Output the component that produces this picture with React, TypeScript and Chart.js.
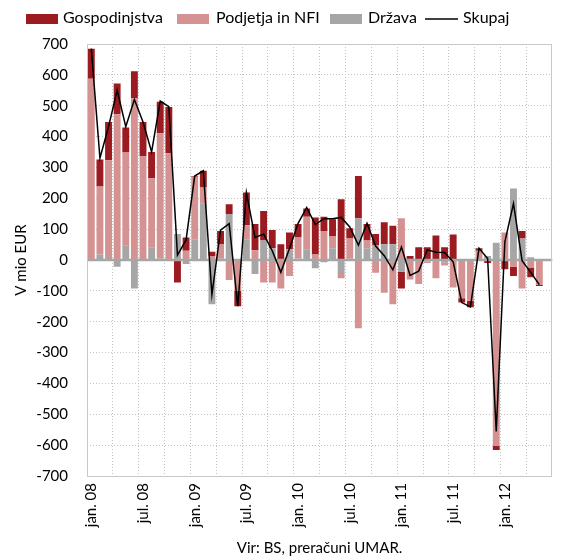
import React, { useEffect, useRef } from "react";
import { Chart, registerables } from "chart.js";

Chart.register(...registerables);

const categories = [
  "jan. 08", "feb. 08", "mar. 08", "apr. 08", "maj. 08", "jun. 08", "jul. 08", "avg. 08", "sep. 08", "okt. 08", "nov. 08", "dec. 08",
  "jan. 09", "feb. 09", "mar. 09", "apr. 09", "maj. 09", "jun. 09", "jul. 09", "avg. 09", "sep. 09", "okt. 09", "nov. 09", "dec. 09",
  "jan. 10", "feb. 10", "mar. 10", "apr. 10", "maj. 10", "jun. 10", "jul. 10", "avg. 10", "sep. 10", "okt. 10", "nov. 10", "dec. 10",
  "jan. 11", "feb. 11", "mar. 11", "apr. 11", "maj. 11", "jun. 11", "jul. 11", "avg. 11", "sep. 11", "okt. 11", "nov. 11", "dec. 11",
  "jan. 12", "feb. 12", "mar. 12", "apr. 12", "maj. 12", "jun. 12",
];

const drzava = [
  0, 18, 10, -22, 48, -92, 0, 41, 5, 0,
  84, -13, 67, 184, -143, 5, 149, 3, 67, -45,
  63, 38, 0, 35, 5, 35, -27, -7, 38, -45,
  4, 135, 38, 49, 51, 51, -38, 0, 0, -5,
  0, -9, 0, 0, 0, 0, 13, 56, 0, 232,
  70, 9, 0, null,
];

const podjetja = [
  587, 220, 313, 472, 300, 524, 337, 224, 406, 346,
  0, 30, 203, 51, 13, 47, -65, -100, 46, 32,
  -73, -73, -92, -52, 68, 105, 18, 94, 38, -14,
  66, -221, 25, -41, -106, -143, 135, -63, -78, -5,
  -59, -9, -89, -124, -132, 30, 0, -603, 89, -22,
  -92, -24, -81, null,
];

const gospodinjstva = [
  98, 88, 124, 100, 81, 88, 110, 85, 102, 150,
  -73, 43, 2, 54, 14, 42, 32, -50, 106, 85,
  96, 59, 51, 54, 44, 27, 120, 46, 56, 197,
  33, 137, 54, 35, 71, 60, -54, 13, 41, 41,
  79, 41, 83, -14, -21, 8, -10, -13, -30, -30,
  24, -32, -3, null,
];

const skupaj = [
  685, 330, 432, 550, 432, 520, 447, 350, 515, 497,
  16, 65, 272, 289, -112, 97, 118, -150, 218, 73,
  84, 30, -40, 37, 119, 170, 115, 134, 134, 138,
  107, 48, 119, 45, 14, -32, 42, -50, -36, 33,
  25, 24, -6, -138, -152, 38, 5, -556, 59, 183,
  -2, -40, -80, null,
];

const COLORS = {
  gosp: "#9b1b21",
  podj: "#d49392",
  drz: "#a6a6a6",
  line: "#000000",
  grid: "#c4c4c4",
  zero: "#a6a6a6",
  frame: "#c8c8c8",
};

const FONT = "Lato";

const legendItems = [
  { label: "Gospodinjstva", color: COLORS.gosp, kind: "box", x: 26, textX: 63 },
  { label: "Podjetja in NFI", color: COLORS.podj, kind: "box", x: 177, textX: 216 },
  { label: "Država", color: COLORS.drz, kind: "box", x: 330, textX: 368 },
  { label: "Skupaj", color: COLORS.line, kind: "line", x: 425, textX: 463 },
];

const legendPlugin = {
  id: "customLegend",
  afterDraw(chart: any) {
    const ctx = chart.ctx;
    ctx.save();
    ctx.font = `16px ${FONT}`;
    ctx.textBaseline = "alphabetic";
    ctx.textAlign = "left";
    for (const it of legendItems) {
      if (it.kind === "box") {
        ctx.fillStyle = it.color;
        ctx.fillRect(it.x, 14, 32, 10);
      } else {
        ctx.strokeStyle = it.color;
        ctx.lineWidth = 1.5;
        ctx.beginPath();
        ctx.moveTo(it.x, 19);
        ctx.lineTo(it.x + 33, 19);
        ctx.stroke();
      }
      ctx.fillStyle = "#000";
      ctx.fillText(it.label, it.textX, 23);
    }
    ctx.restore();
  },
};

const framePlugin = {
  id: "frameAndZero",
  beforeDatasetDraw(chart: any, args: any) {
    if (args.index !== 0) return;
    const { ctx, chartArea, scales } = chart;
    const y0 = scales.y.getPixelForValue(0);
    ctx.save();
    ctx.strokeStyle = COLORS.zero;
    ctx.lineWidth = 2.5;
    ctx.beginPath();
    ctx.moveTo(chartArea.left, y0);
    ctx.lineTo(chartArea.right, y0);
    ctx.stroke();
    ctx.restore();
  },
  afterDatasetsDraw(chart: any) {
    const { ctx, chartArea } = chart;
    ctx.save();
    ctx.strokeStyle = COLORS.frame;
    ctx.lineWidth = 1;
    ctx.strokeRect(
      Math.round(chartArea.left) + 0.5,
      Math.round(chartArea.top) + 0.5,
      Math.round(chartArea.right - chartArea.left) - 1,
      Math.round(chartArea.bottom - chartArea.top)
    );
    ctx.restore();
  },
};

export default function App() {
  const canvasRef = useRef<HTMLCanvasElement | null>(null);

  useEffect(() => {
    if (!canvasRef.current) return;
    const tickFont = { family: FONT, size: 15 };
    const chart = new Chart(canvasRef.current, {
      type: "bar",
      data: {
        labels: categories,
        datasets: [
          {
            type: "line",
            label: "Skupaj",
            data: skupaj,
            borderColor: COLORS.line,
            backgroundColor: COLORS.line,
            borderWidth: 1.5,
            pointRadius: 0,
            tension: 0,
            stack: "total",
          } as any,
          {
            label: "Država",
            data: drzava,
            backgroundColor: COLORS.drz,
            stack: "sectors",
          },
          {
            label: "Podjetja in NFI",
            data: podjetja,
            backgroundColor: COLORS.podj,
            stack: "sectors",
          },
          {
            label: "Gospodinjstva",
            data: gospodinjstva,
            backgroundColor: COLORS.gosp,
            stack: "sectors",
          },
        ],
      },
      options: {
        responsive: false,
        animation: false,
        layout: { padding: { top: 44, right: 7, left: 0, bottom: 0 } },
        datasets: {
          bar: { barPercentage: 0.8, categoryPercentage: 1.0, borderWidth: 0 },
        },
        plugins: {
          legend: { display: false },
          tooltip: { enabled: false },
        },
        scales: {
          x: {
            stacked: true,
            offset: true,
            grid: {
              offset: true,
              drawTicks: false,
              lineWidth: 1,
              color: (c: any) => (c.index % 3 === 0 ? COLORS.grid : "rgba(0,0,0,0)"),
            },
            border: { display: false, dash: [1, 2] },
            ticks: {
              autoSkip: false,
              maxRotation: 90,
              minRotation: 90,
              padding: 7,
              color: "#000",
              font: tickFont,
              callback: (_v: any, i: number) => (i % 6 === 0 ? categories[i] : ""),
            },
            title: {
              display: true,
              text: "Vir: BS, preračuni UMAR.",
              color: "#000",
              font: tickFont,
              padding: { top: 0, bottom: 1 },
            },
            afterFit: (s: any) => {
              s.height = 82;
            },
          },
          y: {
            stacked: true,
            min: -700,
            max: 700,
            grid: {
              drawTicks: false,
              lineWidth: 1,
              color: (c: any) => (c.tick && c.tick.value === 0 ? "rgba(0,0,0,0)" : COLORS.grid),
            },
            border: { display: false, dash: [1, 2] },
            ticks: {
              stepSize: 100,
              padding: 19,
              color: "#000",
              font: tickFont,
            },
            title: {
              display: true,
              text: "V mio EUR",
              color: "#000",
              font: tickFont,
              padding: { top: 12, bottom: 0 },
            },
            afterFit: (s: any) => {
              s.width = 87;
            },
          },
        },
      },
      plugins: [framePlugin, legendPlugin],
    });
    return () => chart.destroy();
  }, []);

  return (
    <div style={{ position: "absolute", left: 0, top: 0, width: 573, height: 558 }}>
      <canvas ref={canvasRef} width={573} height={558} style={{ display: "block" }} />
    </div>
  );
}
